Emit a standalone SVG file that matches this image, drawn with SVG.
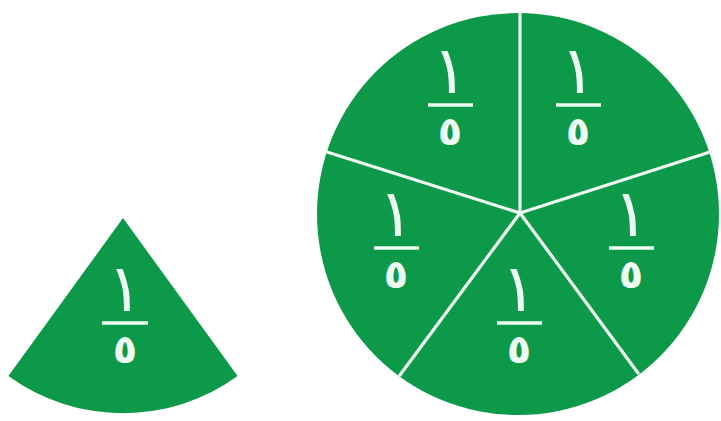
<svg xmlns="http://www.w3.org/2000/svg" width="721" height="421" viewBox="0 0 721 421">
<style>
.piece{fill:#0c9a4a}
.div{stroke:#eefbf2;stroke-width:3.2;stroke-linecap:round;fill:none}
.num,.den{font-family:"DejaVu Sans",sans-serif;fill:#eefbf2;text-anchor:middle}
.num{font-size:66px;font-weight:normal}
.den{font-size:40px;font-weight:bold}
.bar{stroke:#eefbf2;stroke-width:3.5}
</style>
<rect width="721" height="421" fill="#ffffff"/>
<g id="single-piece">
<path class="piece" d="M123,218 L8.4,376 A195,195 0 0,0 237.6,376 Z"/>
<line class="bar" x1="102" y1="323" x2="148" y2="323"/>
<text class="num" x="125" y="311">١</text>
<text class="den" x="125" y="363">٥</text>
</g>
<g id="circle">
<circle class="piece" cx="518" cy="214" r="201"/>
</g>
<g id="connectors">
<line class="div" x1="520" y1="213" x2="520" y2="13"/>
<line class="div" x1="520" y1="213" x2="710" y2="152"/>
<line class="div" x1="520" y1="213" x2="638" y2="373"/>
<line class="div" x1="520" y1="213" x2="400" y2="375"/>
<line class="div" x1="520" y1="213" x2="327" y2="152"/>
</g>
<g id="slice-top-left">
<line class="bar" x1="428" y1="105" x2="473" y2="105"/>
<text class="num" x="450" y="93">١</text>
<text class="den" x="450" y="145">٥</text>
</g>
<g id="slice-top-right">
<line class="bar" x1="556" y1="105" x2="601" y2="105"/>
<text class="num" x="578" y="93">١</text>
<text class="den" x="578" y="145">٥</text>
</g>
<g id="slice-left">
<line class="bar" x1="374" y1="248" x2="419" y2="248"/>
<text class="num" x="396" y="236">١</text>
<text class="den" x="396" y="288">٥</text>
</g>
<g id="slice-right">
<line class="bar" x1="609" y1="248" x2="654" y2="248"/>
<text class="num" x="631" y="236">١</text>
<text class="den" x="631" y="288">٥</text>
</g>
<g id="slice-bottom">
<line class="bar" x1="497" y1="323" x2="542" y2="323"/>
<text class="num" x="519" y="311">١</text>
<text class="den" x="519" y="363">٥</text>
</g>
</svg>
